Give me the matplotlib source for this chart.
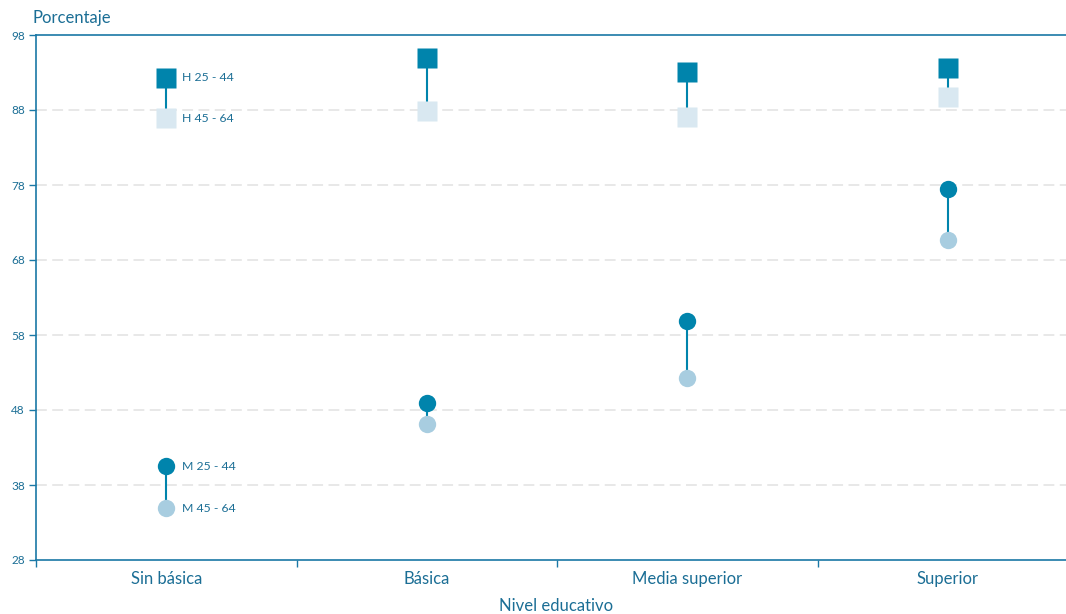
import matplotlib.pyplot as plt

plt.rcParams["font.family"] = ["Lato", "DejaVu Sans"]

# Datos
niveles = ["Sin básica", "Básica", "Media superior", "Superior"]
h_25_44 = [92.3, 94.9, 93.1, 93.6]
h_45_64 = [86.9, 87.9, 87.1, 89.7]
m_25_44 = [40.5, 48.9, 59.9, 77.5]
m_45_64 = [34.9, 46.1, 52.3, 70.7]
y_ticks = [28, 38, 48, 58, 68, 78, 88, 98]

AZUL = "#0084AC"
AZUL_TEXTO = "#1B6E95"
H_CLARO = "#D9E8F1"
M_CLARO = "#A8CDE0"
EJE = "#1A78A6"

W, H = 1066, 614
fig = plt.figure(figsize=(W / 100, H / 100), dpi=100)
ax = fig.add_axes([36 / W, 54 / H, (1078 - 36) / W, (560 - 35) / H])

x = list(range(len(niveles)))

# Lineas de union
for i in x:
    ax.plot([i, i], [h_45_64[i], h_25_44[i]], color=AZUL, lw=1.5, zorder=2)
    ax.plot([i, i], [m_45_64[i], m_25_44[i]], color=AZUL, lw=1.5, zorder=2)

# Marcadores
ax.plot(x, h_45_64, "s", ms=15, color=H_CLARO, mec="none", zorder=3)
ax.plot(x, h_25_44, "s", ms=15, color=AZUL, mec="none", zorder=4)
ax.plot(x, m_45_64, "o", ms=12.5, color=M_CLARO, mec="none", zorder=3)
ax.plot(x, m_25_44, "o", ms=12.5, color=AZUL, mec="none", zorder=4)

# Etiquetas de series (solo primera categoria)
etiquetas = [("H 25 - 44", h_25_44[0]), ("H 45 - 64", h_45_64[0]),
             ("M 25 - 44", m_25_44[0]), ("M 45 - 64", m_45_64[0])]
for txt, val in etiquetas:
    ax.annotate(txt, (0, val), xytext=(11, 0), textcoords="offset points",
                va="center", ha="left", fontsize=8.8, color=AZUL_TEXTO)

# Ejes
ax.set_xlim(-0.5, 3.5)
ax.set_ylim(28, 98)
ax.set_yticks(y_ticks)
ax.set_yticklabels([str(v) for v in y_ticks])
for v in y_ticks[1:-1]:
    ax.axhline(v, color="#E6E6E6", lw=1.3, ls=(0, (6, 3)), zorder=1)

ax.set_xticks([-0.5, 0.5, 1.5, 2.5])
ax.set_xticklabels([])
ax.set_xticks(x, minor=True)
ax.set_xticklabels(niveles, minor=True)
ax.tick_params(axis="x", which="minor", length=0, pad=8, labelsize=12,
               labelcolor=AZUL_TEXTO)
ax.tick_params(axis="x", which="major", length=5, width=1, color=EJE)
ax.tick_params(axis="y", length=5, width=1, color=EJE, labelsize=8.5,
               labelcolor=AZUL_TEXTO, pad=3)

for lado in ["left", "bottom", "top"]:
    ax.spines[lado].set_color(EJE)
    ax.spines[lado].set_linewidth(1.2)
ax.spines["right"].set_visible(False)

fig.text(33 / W, 1 - 18 / H, "Porcentaje", fontsize=12, color=AZUL_TEXTO,
         ha="left", va="center")
fig.text(556 / W, 1 - 606 / H, "Nivel educativo", fontsize=12,
         color=AZUL_TEXTO, ha="center", va="center")

fig.savefig("out.png", dpi=100)
